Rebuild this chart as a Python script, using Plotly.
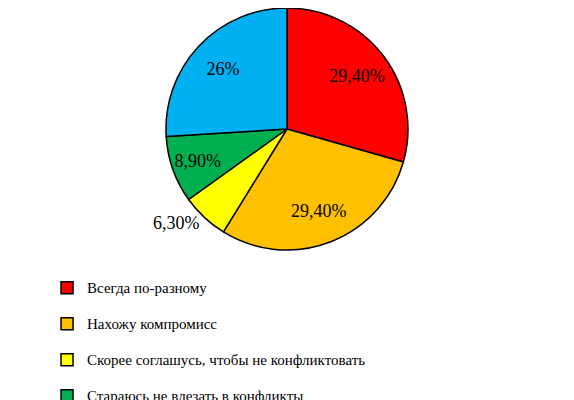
import plotly.graph_objects as go

# Answer options (legend) and their shares
answers = [
    "Всегда по-разному",
    "Нахожу компромисс",
    "Скорее соглашусь, чтобы не конфликтовать",
    "Стараюсь не влезать в конфликты",
    "Всегда отстаиваю свою точку зрения",
]
shares = [29.4, 29.4, 6.3, 8.9, 26.0]
share_labels = ["29,40%", "29,40%", "6,30%", "8,90%", "26%"]
colors = ["#FF0000", "#FFC000", "#FFFF00", "#00B050", "#00B0F0"]

# two-line legend entries (second line empty) give ~36px rows,
# the visible text is set to 15px inside the span
legend_names = ['<span style="font-family:Liberation Serif;font-size:15px">' + a + "</span><br> "
                for a in answers]
text_pos = ["inside", "inside", "outside", "inside", "inside"]
pie_domain = dict(x=[0, 0.972], y=[0.395, 1.0])

fig = go.Figure()

# filled pie with outlines (also feeds the legend)
fig.add_trace(go.Pie(
    labels=legend_names,
    values=shares,
    textinfo="none",
    marker=dict(colors=colors, line=dict(color="black", width=1.5)),
    sort=False,
    direction="clockwise",
    rotation=0,
    domain=pie_domain,
    hoverinfo="skip",
))

# transparent ring on top only carries the percentage labels,
# the hole pushes the inside labels further out like in the original
fig.add_trace(go.Pie(
    labels=legend_names,
    values=shares,
    text=share_labels,
    textinfo="text",
    textposition=text_pos,
    insidetextorientation="horizontal",
    textfont=dict(family="Liberation Serif", size=18, color="black"),
    marker=dict(colors=["rgba(0,0,0,0)"] * len(shares), line=dict(width=0)),
    hole=0.45,
    sort=False,
    direction="clockwise",
    rotation=0,
    domain=pie_domain,
    showlegend=False,
    hoverinfo="text",
))

# the page body adds an 8px offset, positions below account for it
fig.update_layout(
    width=574,
    height=400,
    margin=dict(l=0, r=0, t=0, b=0, autoexpand=False),
    paper_bgcolor="white",
    plot_bgcolor="white",
    font=dict(family="Liberation Serif", color="black"),
    showlegend=True,
    legend=dict(
        orientation="v",
        x=0.068, xanchor="left",
        y=0.3375, yanchor="top",
        valign="top",
        font=dict(family="Liberation Serif", size=12.7, color="black"),
        bgcolor="rgba(0,0,0,0)",
        borderwidth=0,
        traceorder="normal",
    ),
    shapes=[dict(type="line", xref="paper", yref="paper", x0=0.984, x1=0.984,
                 y0=0, y1=1, line=dict(color="#d9d9d9", width=1.5))],
)

fig.write_html("out.html")
